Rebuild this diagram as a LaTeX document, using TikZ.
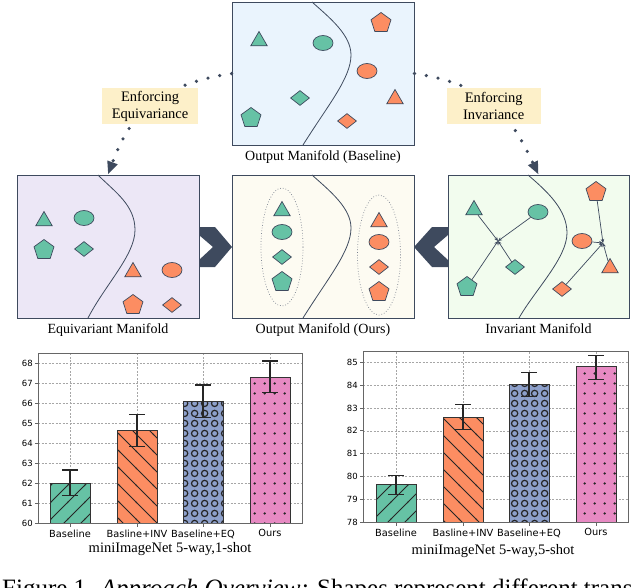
\documentclass[tikz,border=0pt]{standalone}
\usepackage{fontspec}
\setmainfont{Liberation Serif}
\newfontfamily\ticksans{DejaVu Sans}
\usetikzlibrary{shapes.geometric, arrows.meta, positioning, patterns}

\definecolor{setgreen}{HTML}{66C2A5}
\definecolor{setorange}{HTML}{FC8D62}
\definecolor{setblue}{HTML}{8DA0CB}
\definecolor{setpink}{HTML}{E78AC3}
\definecolor{slate}{HTML}{3E4A5E}
\definecolor{basefill}{HTML}{EAF4FD}
\definecolor{equifill}{HTML}{ECE7F6}
\definecolor{oursfill}{HTML}{FDFBF2}
\definecolor{invfill}{HTML}{F2FCEE}
\definecolor{tagfill}{HTML}{FDF0C9}

% hatches of the bars
\pgfdeclarepatternformonly{hatchup}{\pgfqpoint{-1pt}{-1pt}}{\pgfqpoint{18pt}{18pt}}{\pgfqpoint{17pt}{17pt}}{%
    \pgfsetlinewidth{0.75pt}
    \pgfpathmoveto{\pgfqpoint{-1pt}{-1pt}}
    \pgfpathlineto{\pgfqpoint{18pt}{18pt}}
    \pgfusepath{stroke}}
\pgfdeclarepatternformonly{hatchdown}{\pgfqpoint{-1pt}{-1pt}}{\pgfqpoint{18pt}{18pt}}{\pgfqpoint{17pt}{17pt}}{%
    \pgfsetlinewidth{0.75pt}
    \pgfpathmoveto{\pgfqpoint{-1pt}{18pt}}
    \pgfpathlineto{\pgfqpoint{18pt}{-1pt}}
    \pgfusepath{stroke}}
\pgfdeclarepatternformonly{rings}{\pgfqpoint{0pt}{0pt}}{\pgfqpoint{10pt}{10pt}}{\pgfqpoint{10pt}{10pt}}{%
    \pgfsetlinewidth{1.3pt}
    \pgfpathcircle{\pgfqpoint{5pt}{5pt}}{3.4pt}
    \pgfusepath{stroke}}
\pgfdeclarepatternformonly{specks}{\pgfqpoint{0pt}{0pt}}{\pgfqpoint{10pt}{10pt}}{\pgfqpoint{10pt}{10pt}}{%
    \pgfpathcircle{\pgfqpoint{5pt}{5pt}}{1.4pt}
    \pgfusepath{fill}}

\tikzset{x=1pt, y=-1pt, % one unit = one pixel, y goes down
    panel/.style={draw=slate, line width=0.9pt, minimum width=182pt, minimum height=143pt, inner sep=0pt},
    manifold/.style={font=\fontsize{14}{17}\selectfont, inner sep=0pt},
    shp/.style={draw=slate, line width=0.7pt, inner sep=0pt},
    tri/.style={shp, regular polygon, regular polygon sides=3, minimum size=19pt},
    pent/.style={shp, regular polygon, regular polygon sides=5, minimum size=21pt},
    diam/.style={shp, diamond, minimum width=19pt, minimum height=15pt},
    ell/.style={shp, ellipse, minimum width=20pt, minimum height=15pt},
    divider/.style={slate, line width=0.8pt},
    clusterring/.style={draw=slate!70, dotted, line width=0.7pt, ellipse, inner sep=0pt},
    tagbox/.style={fill=tagfill, text=black, font=\fontsize{14.5}{17}\selectfont, align=center,
        minimum width=94pt, minimum height=36pt, inner xsep=10pt},
    dotarrow/.style={slate, line width=3.6pt, line cap=round, dash pattern=on 0pt off 12pt,
        -{Triangle[width=10pt,length=13pt]}},
    pull/.style={slate, line width=0.7pt, -{Stealth[length=4pt,width=3.5pt]}},
    gridline/.style={black!35, line width=0.5pt, dash pattern=on 2pt off 1.5pt},
    axisframe/.style={black!60, line width=0.8pt},
    barbox/.style={draw=black!80, line width=0.8pt, pattern color=black!85},
    errbar/.style={black!85, line width=1.1pt},
    ytick/.style={anchor=east, inner sep=0pt, font=\ticksans\fontsize{8.5}{10}\selectfont},
    xtick/.style={anchor=north, inner sep=0pt, yshift=-6.5pt, font=\ticksans\fontsize{9.8}{11}\selectfont},
    chart title/.style={font=\fontsize{14.5}{17}\selectfont, inner sep=0pt}}

\begin{document}
\begin{tikzpicture}
    \useasboundingbox (0,0) rectangle (640,587);
    \clip (0,0) rectangle (640,587);

    % Output manifold of the baseline
    \node[panel, fill=basefill] (base) at (323,73.5) {};
    \draw[divider] (312,2) .. controls (330,18) and (351,35) .. (351,55)
        .. controls (351,78) and (328,105) .. (303,145);
    \node[tri, fill=setgreen] (b-tri) at (259,41) {};
    \node[ell, fill=setgreen] (b-ell) at (323,43) {};
    \node[diam, fill=setgreen] (b-dia) at (300,98) {};
    \node[pent, fill=setgreen] (b-pen) at (251,118) {};
    \node[pent, fill=setorange] (b-pen2) at (381,23) {};
    \node[ell, fill=setorange] (b-ell2) at (367,71) {};
    \node[tri, fill=setorange] (b-tri2) at (395,99) {};
    \node[diam, fill=setorange] (b-dia2) at (347,121) {};
    \node[manifold, below=5pt of base] (base-lbl) {Output Manifold (Baseline)};

    % Equivariant manifold
    \node[panel, fill=equifill] (equi) at (108,246.5) {};
    \draw[divider] (98,175) .. controls (115,192) and (135,205) .. (135,230)
        .. controls (135,255) and (105,285) .. (88,318);
    \node[tri, fill=setgreen] (e-tri) at (44,221) {};
    \node[ell, fill=setgreen] (e-ell) at (84,218) {};
    \node[pent, fill=setgreen] (e-pen) at (44,250) {};
    \node[diam, fill=setgreen] (e-dia) at (84,249) {};
    \node[tri, fill=setorange] (e-tri2) at (133,272) {};
    \node[ell, fill=setorange] (e-ell2) at (172,270) {};
    \node[pent, fill=setorange] (e-pen2) at (133,305) {};
    \node[diam, fill=setorange] (e-dia2) at (172,305) {};
    \node[manifold, below=5pt of equi] (equi-lbl) {Equivariant Manifold};

    % Our output manifold
    \node[panel, fill=oursfill] (ours) at (323,246.5) {};
    \draw[divider] (312,175) .. controls (330,191) and (351,208) .. (351,228)
        .. controls (351,251) and (328,278) .. (303,318);
    \node[clusterring, minimum width=42pt, minimum height=118pt] (o-ring) at (282,247) {};
    \node[clusterring, minimum width=43pt, minimum height=120pt] (o-ring2) at (379,255) {};
    \node[tri, fill=setgreen] (o-tri) at (282,211) {};
    \node[ell, fill=setgreen] (o-ell) at (282,232) {};
    \node[diam, fill=setgreen] (o-dia) at (282,257) {};
    \node[pent, fill=setgreen] (o-pen) at (282,282) {};
    \node[tri, fill=setorange] (o-tri2) at (379,222) {};
    \node[ell, fill=setorange] (o-ell2) at (379,242) {};
    \node[diam, fill=setorange] (o-dia2) at (379,267) {};
    \node[pent, fill=setorange] (o-pen2) at (379,292) {};
    \node[manifold, below=5pt of ours] (ours-lbl) {Output Manifold (Ours)};

    % Invariant manifold
    \node[panel, fill=invfill, minimum width=181pt] (invar) at (538.5,246.5) {};
    \draw[divider] (528,175) .. controls (548,192) and (567,210) .. (567,233)
        .. controls (567,258) and (535,290) .. (519,318);
    \node[tri, fill=setgreen] (i-tri) at (474,210) {};
    \node[ell, fill=setgreen] (i-ell) at (538,212) {};
    \node[pent, fill=setgreen] (i-pen) at (467,287) {};
    \node[diam, fill=setgreen] (i-dia) at (515,267) {};
    \node[pent, fill=setorange] (i-pen2) at (596,192) {};
    \node[ell, fill=setorange] (i-ell2) at (582,241) {};
    \node[tri, fill=setorange] (i-tri2) at (610,268) {};
    \node[diam, fill=setorange] (i-dia2) at (562,289) {};
    \coordinate (hub) at (498,241);
    \coordinate (hub2) at (603,243);
    \foreach \s in {i-tri,i-ell,i-pen,i-dia} \draw[pull] (\s) -- (hub);
    \foreach \s in {i-pen2,i-ell2,i-tri2,i-dia2} \draw[pull] (\s) -- (hub2);
    \node[manifold, below=5pt of invar] (invar-lbl) {Invariant Manifold};

    % chevrons towards our manifold
    \fill[slate] (199,227) -- (215,227) -- (232,247) -- (215,267) -- (199,267) -- (199,260)
        -- (213,247) -- (199,235) -- cycle;
    \fill[slate] (448,227) -- (432,227) -- (414,247) -- (432,267) -- (448,267) -- (448,260)
        -- (434,247) -- (448,235) -- cycle;

    % enforcing arrows
    \draw[dotarrow] (base.west) .. controls (157,85) and (130,115) ..
        node[tagbox] (tag-eq) {Enforcing\\Equivariance} (equi.north);
    \draw[dotarrow] (base.east) .. controls (489,85) and (510,115) ..
        node[tagbox] (tag-inv) {Enforcing\\Invariance} (invar.north);

    % 1-shot chart
    \begin{scope}[shift={(0,523)}, y={(0,20pt)}]
        \foreach \g in {61,...,68} \draw[gridline] (38,\g-60) -- (302,\g-60);
        \foreach \bx in {70,137,203,270} \draw[gridline] (\bx,0) -- (\bx,8.5);
        \foreach \bx/\v/\lo/\hi/\col/\pat in {70/62.0/61.37/62.65/setgreen/hatchup,
                137/64.65/63.82/65.42/setorange/hatchdown,
                203/66.1/65.28/66.9/setblue/rings,
                270/67.28/66.52/68.1/setpink/specks} {
            \draw[barbox, preaction={fill=\col}, pattern=\pat] (\bx-20,0) rectangle (\bx+20,\v-60);
            \draw[errbar] (\bx,\lo-60) -- (\bx,\hi-60)
                (\bx-8,\lo-60) -- (\bx+8,\lo-60) (\bx-8,\hi-60) -- (\bx+8,\hi-60);
        }
        \draw[axisframe] (38,0) rectangle (302,8.5);
        \foreach \g in {60,...,68} {
            \draw[axisframe] (38,\g-60) -- ++(-3.5pt,0);
            \node[ytick] (ya-\g) at (33,\g-60) {\g};
        }
        \foreach \bx/\name [count=\i] in {70/Baseline,137/Basline+INV,203/Baseline+EQ,270/Ours} {
            \draw[axisframe] (\bx,0) -- ++(0,-3.5pt);
            \node[xtick] (xa-\i) at (\bx,0) {\name};
        }
    \end{scope}
    \node[chart title] (title-a) at (170,549) {miniImageNet 5-way,1-shot};

    % 5-shot chart
    \begin{scope}[shift={(0,522)}, y={(0,22.8pt)}]
        \foreach \g in {79,...,85} \draw[gridline] (363,\g-78) -- (628,\g-78);
        \foreach \bx in {396,463,529,596} \draw[gridline] (\bx,0) -- (\bx,7.47);
        \foreach \bx/\v/\lo/\hi/\col/\pat in {396/79.66/79.2/80.05/setgreen/hatchup,
                463/82.58/82.06/83.14/setorange/hatchdown,
                529/84.05/83.49/84.56/setblue/rings,
                596/84.81/84.25/85.32/setpink/specks} {
            \draw[barbox, preaction={fill=\col}, pattern=\pat] (\bx-20,0) rectangle (\bx+20,\v-78);
            \draw[errbar] (\bx,\lo-78) -- (\bx,\hi-78)
                (\bx-8,\lo-78) -- (\bx+8,\lo-78) (\bx-8,\hi-78) -- (\bx+8,\hi-78);
        }
        \draw[axisframe] (363,0) rectangle (628,7.47);
        \foreach \g in {78,...,85} {
            \draw[axisframe] (363,\g-78) -- ++(-3.5pt,0);
            \node[ytick] (yb-\g) at (358,\g-78) {\g};
        }
        \foreach \bx/\name [count=\i] in {396/Baseline,463/Basline+INV,529/Baseline+EQ,596/Ours} {
            \draw[axisframe] (\bx,0) -- ++(0,-3.5pt);
            \node[xtick] (xb-\i) at (\bx,0) {\name};
        }
    \end{scope}
    \node[chart title] (title-b) at (493,551) {miniImageNet 5-way,5-shot};

    % caption, cut by the lower edge
    \node[anchor=base west, inner sep=0pt, font=\fontsize{25}{30}\selectfont] (caption) at (2,596)
        {Figure 1. \textit{Approach Overview:} Shapes represent different trans};
\end{tikzpicture}
\end{document}
